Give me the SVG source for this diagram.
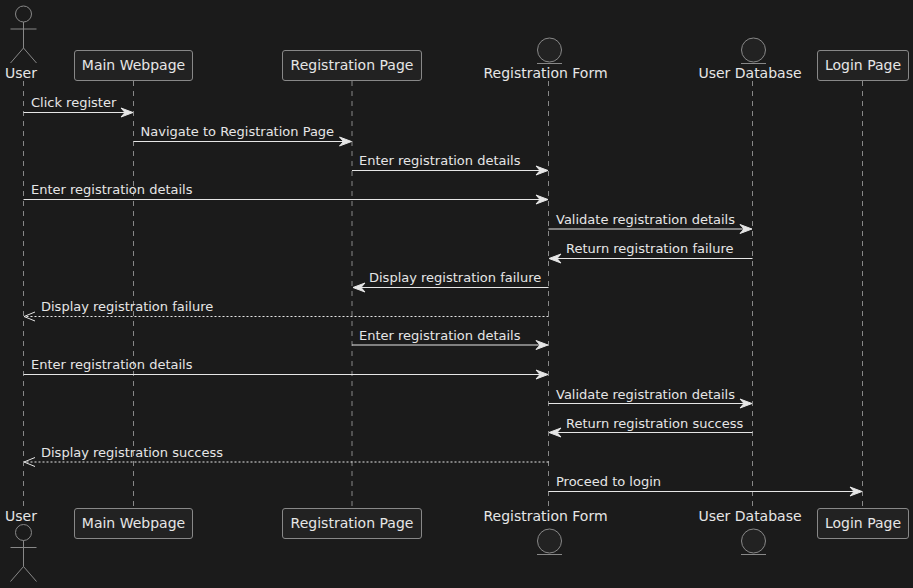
<svg xmlns="http://www.w3.org/2000/svg" width="913" height="588" viewBox="0 0 913 588">
<style>
text{font-family:"DejaVu Sans",sans-serif;font-size:13px;fill:#e6e6e6}
.c{text-anchor:middle;font-size:14px}
.life{stroke:#888;stroke-width:1;stroke-dasharray:5,5;fill:none}
.box{fill:#222;stroke:#888;stroke-width:1}
.fig{fill:none;stroke:#888;stroke-width:1}
.ent{fill:#222;stroke:#888;stroke-width:1}
.msg{stroke:#e6e6e6;stroke-width:1;fill:none}
.dash{stroke:#e6e6e6;stroke-width:1;stroke-dasharray:2,2;fill:none}
.head{fill:#e6e6e6;stroke:#e6e6e6;stroke-width:1}
.open{fill:none;stroke:#e6e6e6;stroke-width:1}
</style>
<defs>
<g id="actor"><circle class="fig" cx="23.5" cy="14" r="8"/><path class="fig" d="M23.5 22V48M10.5 29H36.5M23.5 48L10.5 63M23.5 48L36.5 63"/></g>
<g id="entity"><circle class="ent" cx="0" cy="0" r="12"/><path class="fig" d="M-12.500 13.500H12.500"/></g>
<path id="r" class="head" d="M-12 -4.500 L0 0 L-12 4.500 L-8 0Z"/>
<path id="l" class="head" d="M12 -4.500 L0 0 L12 4.500 L8 0Z"/>
</defs>
<rect width="913" height="588" fill="#1b1b1b"/>
<g id="lifelines">
<path class="life" d="M23.500 81V508"/><path class="life" d="M133.500 81V508"/><path class="life" d="M352 81V508"/><path class="life" d="M548.500 81V508"/><path class="life" d="M752.500 81V508"/><path class="life" d="M862.500 81V508"/>
</g>
<g id="node-user"><use href="#actor"/><text class="c" x="21" y="78">User</text><text class="c" x="21" y="521">User</text><use href="#actor" y="518.500"/></g>
<g id="node-main"><rect class="box" x="74.500" y="50.500" width="118" height="30" rx="2.500"/><text class="c" x="133.500" y="70">Main Webpage</text><rect class="box" x="74.500" y="508.500" width="118" height="30" rx="2.500"/><text class="c" x="133.500" y="528">Main Webpage</text></g>
<g id="node-regpage"><rect class="box" x="282.500" y="50.500" width="139" height="30" rx="2.500"/><text class="c" x="352" y="70">Registration Page</text><rect class="box" x="282.500" y="508.500" width="139" height="30" rx="2.500"/><text class="c" x="352" y="528">Registration Page</text></g>
<g id="node-regform"><use href="#entity" x="549.500" y="50"/><text class="c" x="545.500" y="78">Registration Form</text><text class="c" x="545.500" y="521">Registration Form</text><use href="#entity" x="549.500" y="541"/></g>
<g id="node-userdb"><use href="#entity" x="753.500" y="50"/><text class="c" x="750" y="78">User Database</text><text class="c" x="750" y="521">User Database</text><use href="#entity" x="753.500" y="541"/></g>
<g id="node-login"><rect class="box" x="817.500" y="50.500" width="91" height="30" rx="2.500"/><text class="c" x="863" y="70">Login Page</text><rect class="box" x="817.500" y="508.500" width="91" height="30" rx="2.500"/><text class="c" x="863" y="528">Login Page</text></g>
<g id="connectors">
<path class="msg" d="M23.500 112.500H128"/><use href="#r" x="133" y="112.500"/><text x="31" y="107">Click register</text>
<path class="msg" d="M133.500 141.500H346"/><use href="#r" x="351.500" y="141.500"/><text x="140.500" y="136">Navigate to Registration Page</text>
<path class="msg" d="M352 170.500H543"/><use href="#r" x="548" y="170.500"/><text x="359" y="165">Enter registration details</text>
<path class="msg" d="M23.500 199.500H543"/><use href="#r" x="548" y="199.500"/><text x="31" y="194">Enter registration details</text>
<path class="msg" d="M548.500 229H747"/><use href="#r" x="752" y="229"/><text x="556" y="223.500">Validate registration details</text>
<path class="msg" d="M752.500 258.500H554"/><use href="#l" x="549" y="258.500"/><text x="566" y="253">Return registration failure</text>
<path class="msg" d="M548.500 287.500H358"/><use href="#l" x="353" y="287.500"/><text x="369" y="282">Display registration failure</text>
<path class="dash" d="M548.500 316.500H24"/><path class="open" d="M35 312L24 316.500L35 321"/><text x="41" y="311">Display registration failure</text>
<path class="msg" d="M352 345H543"/><use href="#r" x="548" y="345"/><text x="359" y="340">Enter registration details</text>
<path class="msg" d="M23.500 374.500H543"/><use href="#r" x="548" y="374.500"/><text x="31" y="369">Enter registration details</text>
<path class="msg" d="M548.500 403.500H747"/><use href="#r" x="752" y="403.500"/><text x="556" y="398.500">Validate registration details</text>
<path class="msg" d="M752.500 432.500H554"/><use href="#l" x="549" y="432.500"/><text x="566" y="427.500">Return registration success</text>
<path class="dash" d="M548.500 462H24"/><path class="open" d="M35 457.500L24 462L35 466.500"/><text x="41" y="457">Display registration success</text>
<path class="msg" d="M548.500 491.500H857"/><use href="#r" x="862" y="491.500"/><text x="556" y="486">Proceed to login</text>
</g>
</svg>
